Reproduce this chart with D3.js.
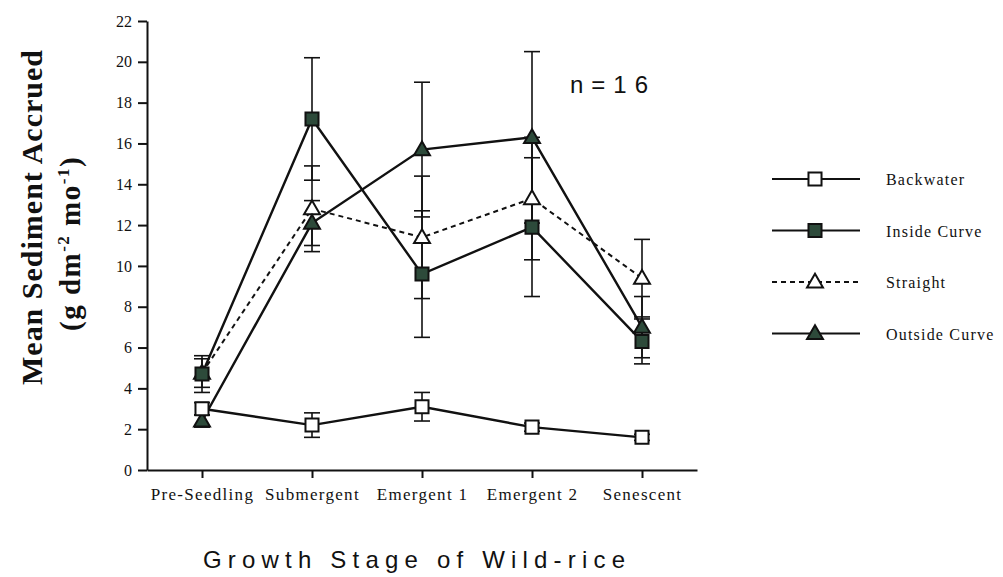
<html>
<head>
  <style>
    body { margin: 0; background: white; }
    .axis path, .axis line { stroke: #111; stroke-width: 2px; }
    .legendText { font-family: 'Liberation Serif', serif; font-size: 16px; fill: #111; }
  </style>
</head>
<body>
  <div id="chart"></div>
  <script src="https://d3js.org/d3.v7.min.js"></script>
  <script>

  const stages = ["Pre-Seedling", "Submergent", "Emergent 1", "Emergent 2", "Senescent"];
  const yTicks = [0, 2, 4, 6, 8, 10, 12, 14, 16, 18, 20, 22];

  const backwater    = [3.0, 2.2, 3.1, 2.1, 1.6];
  const backwaterErr = [0.3, 0.6, 0.7, 0.2, 0.15];
  const insideCurve  = [4.7, 17.2, 9.6, 11.9, 6.3];
  const insideErr    = [0.9, 3.0, 3.1, 3.4, 1.1];
  const straight     = [4.75, 12.8, 11.4, 13.3, 9.4];
  const straightErr  = [0.7, 2.1, 3.0, 3.0, 1.9];
  const outsideCurve = [2.4, 12.1, 15.7, 16.3, 7.0];
  const outsideErr   = [0.3, 1.1, 3.3, 4.2, 1.5];

  const green = "#2d4a3a";
  const serif = "'Liberation Serif', 'Times New Roman', serif";

  // drawing order: straight under, backwater on top
  const series = [
    {name: "Straight", vals: straight, err: straightErr, shape: "tri", fill: "white", dash: "5,4"},
    {name: "Inside Curve", vals: insideCurve, err: insideErr, shape: "sq", fill: green, dash: null},
    {name: "Outside Curve", vals: outsideCurve, err: outsideErr, shape: "tri", fill: green, dash: null},
    {name: "Backwater", vals: backwater, err: backwaterErr, shape: "sq", fill: "white", dash: null}
  ];
  const legendOrder = ["Backwater", "Inside Curve", "Straight", "Outside Curve"];

  const W = 1003, H = 577;
  const svg = d3.select("#chart").append("svg")
    .attr("width", W).attr("height", H);

  const x = d3.scalePoint().domain(stages).range([147, 697]).padding(0.5);
  const y = d3.scaleLinear().domain([0, 22]).range([470, 21]);

  // axes
  const yAxis = svg.append("g")
    .attr("class", "axis")
    .attr("transform", "translate(147,0)")
    .call(d3.axisLeft(y).tickValues(yTicks).tickSize(9).tickSizeOuter(0).tickPadding(6));
  yAxis.attr("font-family", serif).attr("font-size", 16);
  yAxis.selectAll("text").attr("fill", "#111");

  const xAxis = svg.append("g")
    .attr("class", "axis")
    .attr("transform", "translate(0,470)")
    .call(d3.axisBottom(x).tickSize(8).tickSizeOuter(0).tickPadding(10));
  xAxis.attr("font-family", serif).attr("font-size", 17);
  xAxis.selectAll("text").attr("fill", "#111").style("letter-spacing", "1.3px");

  const sym = {
    sq: d3.symbol().type(d3.symbolSquare).size(170),
    tri: d3.symbol().type(d3.symbolTriangle).size(110)
  };

  // error bars
  const capW = 8;
  series.forEach(s => {
    const g = svg.append("g").attr("stroke", "#111").attr("stroke-width", 1.6);
    s.vals.forEach((v, i) => {
      const cx = x(stages[i]);
      const hi = y(v + s.err[i]), lo = y(v - s.err[i]);
      g.append("line").attr("x1", cx).attr("x2", cx).attr("y1", hi).attr("y2", lo);
      g.append("line").attr("x1", cx - capW).attr("x2", cx + capW).attr("y1", hi).attr("y2", hi);
      g.append("line").attr("x1", cx - capW).attr("x2", cx + capW).attr("y1", lo).attr("y2", lo);
    });
  });

  // lines
  const line = d3.line().x((d, i) => x(stages[i])).y(d => y(d));
  series.forEach(s => {
    svg.append("path")
      .datum(s.vals)
      .attr("d", line)
      .attr("fill", "none")
      .attr("stroke", "#111")
      .attr("stroke-width", s.dash ? 2 : 2.4)
      .attr("stroke-dasharray", s.dash);
  });

  // markers
  series.forEach(s => {
    svg.append("g").selectAll("path")
      .data(s.vals)
      .join("path")
        .attr("d", sym[s.shape])
        .attr("transform", (d, i) => `translate(${x(stages[i])},${y(d) + (s.shape == "tri" ? 1 : 0)})`)
        .attr("fill", s.fill)
        .attr("stroke", "#111")
        .attr("stroke-width", 2);
  });

  // legend
  const legend = svg.append("g");
  legendOrder.forEach((name, i) => {
    const s = series.find(d => d.name == name);
    const ly = 179 + i * 51.5;
    legend.append("line")
      .attr("x1", 772).attr("x2", 860).attr("y1", ly).attr("y2", ly)
      .attr("stroke", "#111").attr("stroke-width", 2)
      .attr("stroke-dasharray", s.dash);
    legend.append("path")
      .attr("d", sym[s.shape])
      .attr("transform", `translate(815,${ly + (s.shape == "tri" ? 1 : 0)})`)
      .attr("fill", s.fill)
      .attr("stroke", "#111")
      .attr("stroke-width", 2);
    legend.append("text")
      .attr("class", "legendText")
      .attr("x", 886).attr("y", ly + 6)
      .style("letter-spacing", "1.2px")
      .text(name);
  });

  // n label
  svg.append("text")
    .attr("x", 570).attr("y", 93)
    .attr("textLength", 78).attr("lengthAdjust", "spacing")
    .style("font-family", "'Liberation Sans', Arial, sans-serif")
    .style("font-size", "24px")
    .attr("fill", "#111")
    .text("n=16");

  // axis titles
  svg.append("text")
    .attr("x", 203).attr("y", 568)
    .attr("textLength", 422).attr("lengthAdjust", "spacing")
    .style("font-family", "'Liberation Sans', Arial, sans-serif")
    .style("font-size", "24px")
    .attr("fill", "#111")
    .text("Growth Stage of Wild-rice");

  svg.append("text")
    .attr("transform", "translate(42,385) rotate(-90)")
    .attr("textLength", 335).attr("lengthAdjust", "spacing")
    .style("font-family", serif)
    .style("font-weight", "bold")
    .style("font-size", "30px")
    .attr("fill", "#111")
    .text("Mean Sediment Accrued");

  const yt2 = svg.append("text")
    .attr("transform", "translate(80,331) rotate(-90)")
    .style("font-family", serif)
    .style("font-weight", "bold")
    .style("font-size", "29px")
    .style("letter-spacing", "1.5px")
    .attr("fill", "#111");
  yt2.append("tspan").text("(g dm");
  yt2.append("tspan").attr("dy", -11).style("font-size", "17px").text("-2");
  yt2.append("tspan").attr("dy", 11).text(" mo");
  yt2.append("tspan").attr("dy", -11).style("font-size", "17px").text("-1");
  yt2.append("tspan").attr("dy", 11).text(")");

  </script>
</body>
</html>
